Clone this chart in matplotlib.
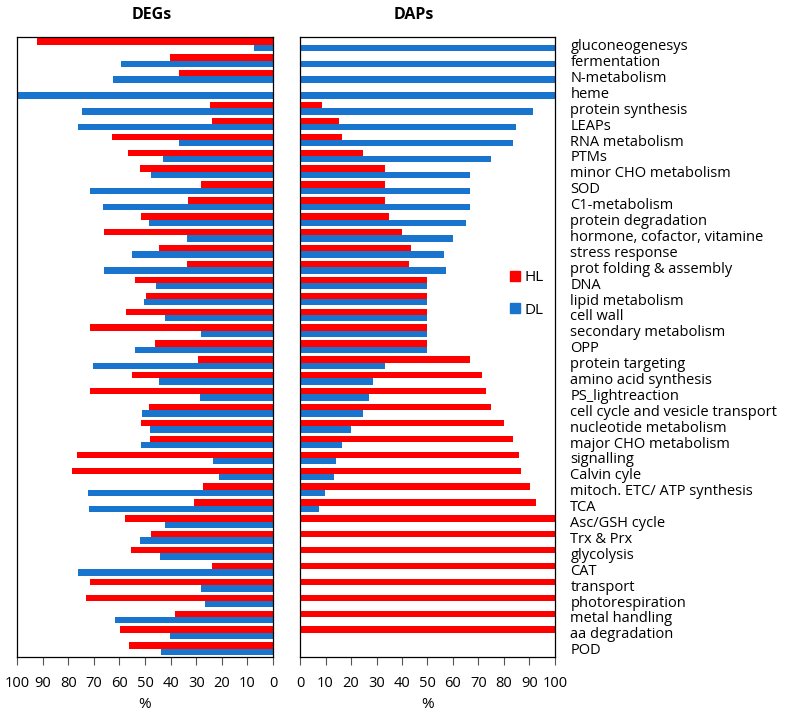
import numpy as np
import matplotlib
matplotlib.use('Agg')
import matplotlib.pyplot as plt
from matplotlib.lines import Line2D

plt.rcParams['font.family'] = ['Open Sans', 'DejaVu Sans']

# Categorias (de arriba a abajo)
categories = ['gluconeogenesys', 'fermentation', 'N-metabolism', 'heme',
              'protein synthesis', 'LEAPs', 'RNA metabolism', 'PTMs',
              'minor CHO metabolism', 'SOD', 'C1-metabolism',
              'protein degradation', 'hormone, cofactor, vitamine',
              'stress response', 'prot folding & assembly', 'DNA',
              'lipid metabolism', 'cell wall', 'secondary metabolism', 'OPP',
              'protein targeting', 'amino acid synthesis', 'PS_lightreaction',
              'cell cycle and vesicle transport', 'nucleotide metabolism',
              'major CHO metabolism', 'signalling', 'Calvin cyle',
              'mitoch. ETC/ ATP synthesis', 'TCA', 'Asc/GSH cycle',
              'Trx & Prx', 'glycolysis', 'CAT', 'transport',
              'photorespiration', 'metal handling', 'aa degradation', 'POD']

# DEGs (%)
deg_hl = [92.2, 40.1, 36.8, 0, 24.8, 23.8, 62.8, 56.8, 52.0, 28.0, 33.2,
          51.4, 66.0, 44.5, 33.4, 54.0, 49.5, 57.6, 71.4, 46.0, 29.2, 55.2,
          71.3, 48.6, 51.6, 48.0, 76.4, 78.5, 27.2, 30.8, 57.7, 47.7, 55.5,
          23.8, 71.4, 73.2, 38.1, 59.7, 56.1]
deg_dl = [7.3, 59.5, 62.6, 100, 74.8, 76.1, 36.8, 43.0, 47.8, 71.5, 66.4,
          48.3, 33.6, 55.2, 66.2, 45.8, 50.3, 42.2, 28.2, 53.8, 70.2, 44.5,
          28.5, 51.1, 48.2, 51.7, 23.3, 21.1, 72.4, 71.7, 42.2, 52.0, 44.2,
          76.0, 28.2, 26.5, 61.6, 40.1, 43.6]

# DAPs (%)
dap_hl = [0, 0, 0, 0, 8.6, 15.3, 16.5, 24.8, 33.3, 33.3, 33.3, 34.8, 40.0,
          43.4, 42.9, 50, 50, 50, 50, 50, 66.7, 71.4, 72.9, 75.0, 79.9, 83.4,
          85.8, 86.7, 90.1, 92.4, 100, 100, 100, 100, 100, 100, 100, 100, 0]
dap_dl = [100, 100, 100, 100, 91.2, 84.7, 83.4, 75.0, 66.7, 66.7, 66.7, 65.2,
          60.0, 56.5, 57.1, 50, 50, 50, 50, 50, 33.3, 28.5, 26.9, 24.8, 19.9,
          16.6, 14.1, 13.2, 9.7, 7.6, 0, 0, 0, 0, 0, 0, 0, 0, 0]

RED = '#FF0000'
BLUE = '#1874CD'

y = np.arange(len(categories))
h = 0.4

fig = plt.figure(figsize=(7.89, 7.15), dpi=100)
ax1 = fig.add_axes([17 / 789, 1 - 656.7 / 715, 256 / 789, 620 / 715])
ax2 = fig.add_axes([300 / 789, 1 - 656.7 / 715, 255 / 789, 620 / 715])

# Panel DEGs (eje invertido)
ax1.barh(y - h / 2, deg_hl, height=h, color=RED)
ax1.barh(y + h / 2, deg_dl, height=h, color=BLUE)
ax1.set_xlim(100, 0)

# Panel DAPs
ax2.barh(y - h / 2, dap_hl, height=h, color=RED)
ax2.barh(y + h / 2, dap_dl, height=h, color=BLUE)
ax2.set_xlim(0, 100)

for ax in (ax1, ax2):
    ax.set_ylim(len(categories) - 0.5, -0.5)
    ax.set_xticks(np.arange(0, 101, 10))
    ax.tick_params(axis='x', direction='out', length=6, width=0.8,
                   labelsize=10.5, pad=8, color='#555555')
    ax.set_xlabel('%', fontsize=11, labelpad=4)
    for s in ax.spines.values():
        s.set_color('black')
        s.set_linewidth(0.9)

ax1.set_yticks([])
ax2.set_yticks(y)
ax2.set_yticklabels(categories, fontsize=10.5)
ax2.yaxis.tick_right()
ax2.tick_params(axis='y', length=0, pad=11)
for lbl in ax2.get_yticklabels():
    lbl.set_horizontalalignment('left')

fig.text(152 / 789, 1 - 15 / 715, 'DEGs', ha='center', va='center',
         fontsize=11.5, fontweight='bold')
fig.text(414 / 789, 1 - 15 / 715, 'DAPs', ha='center', va='center',
         fontsize=11.5, fontweight='bold')

handles = [Line2D([], [], marker='s', linestyle='', color=RED, markersize=7),
           Line2D([], [], marker='s', linestyle='', color=BLUE, markersize=7)]
ax2.legend(handles, ['HL', 'DL'], loc='center left',
           bbox_to_anchor=(0.76, 0.585), frameon=False, fontsize=11,
           labelspacing=1.15, handletextpad=0.1, handlelength=1.0)

plt.savefig('out.png', dpi=100)
plt.close()
